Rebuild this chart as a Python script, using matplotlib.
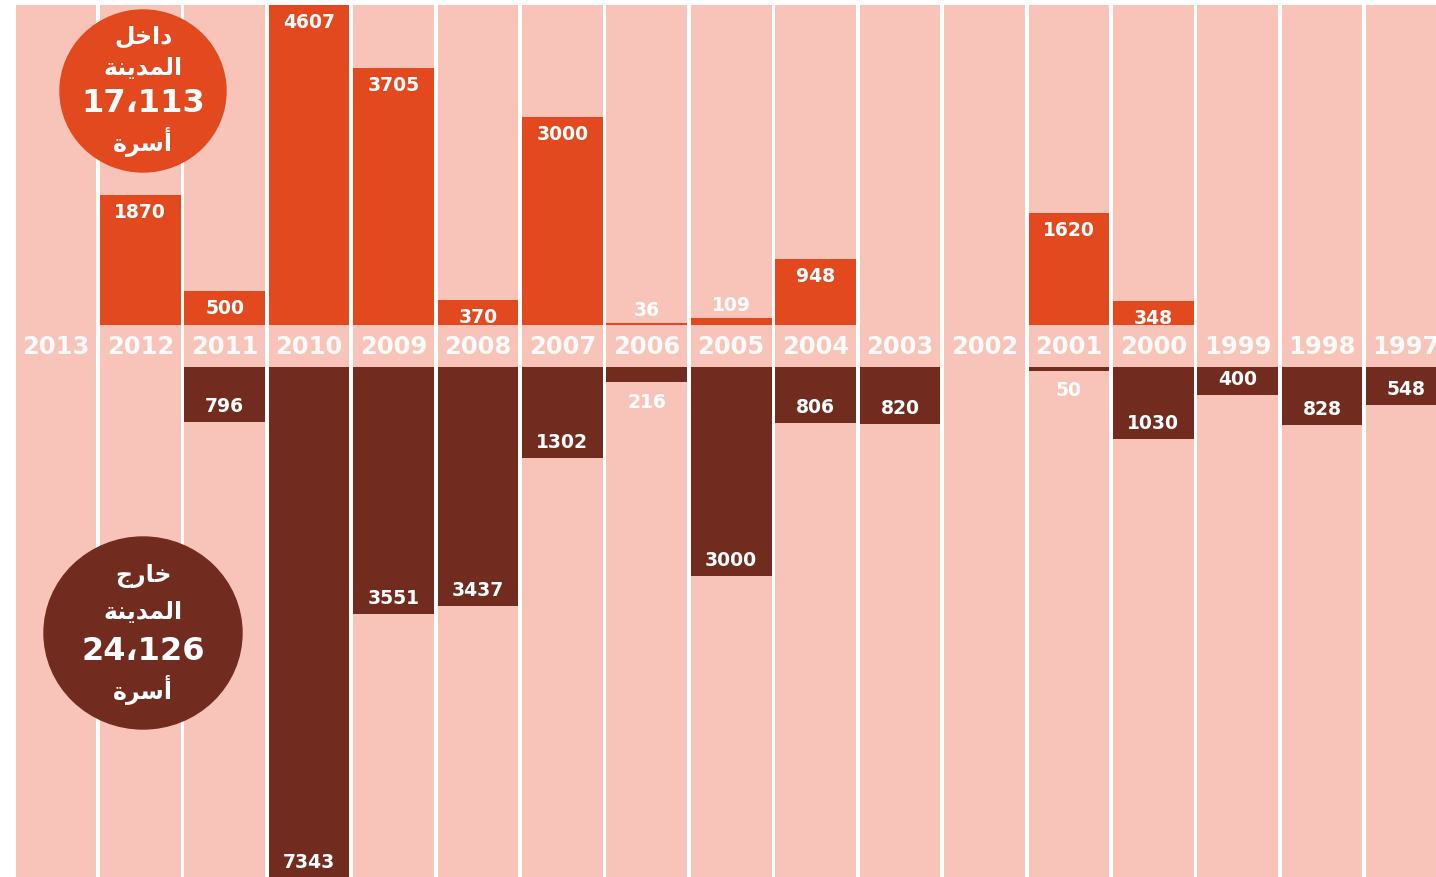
import matplotlib
matplotlib.use("Agg")
import matplotlib.pyplot as plt
from matplotlib.patches import Ellipse

years = ['2013', '2012', '2011', '2010', '2009', '2008', '2007', '2006', '2005',
         '2004', '2003', '2002', '2001', '2000', '1999', '1998', '1997']
inside_city = [0, 1870, 500, 4607, 3705, 370, 3000, 36, 109, 948, 0, 0, 1620, 348, 0, 0, 0]
outside_city = [0, 0, 796, 7343, 3551, 3437, 1302, 216, 3000, 806, 820, 0, 50, 1030, 400, 828, 548]

# arabic words written in presentation forms, visual order (matplotlib has no shaping)
word_inside = '\uFEDE\uFEA7\uFE8D\uFEA9'            # داخل
word_outside = '\uFE9D\uFEAD\uFE8E\uFEA7'           # خارج
word_city = '\uFE94\uFEE8\uFEF3\uFEAA\uFEE4\uFEDF\uFE8D'  # المدينة
word_family = '\uFE93\uFEAE\uFEB3\uFE83'            # أسرة
total_inside = '17\u060C113'
total_outside = '24\u060C126'

PINK = '#F8C3B8'
ORANGE = '#E2491E'
BROWN = '#722C1F'
FONT = ['DejaVu Sans', 'Noto Sans']

gap = 600        # the middle band with the years, in value units
bar_w = 0.955
y_bottom, y_top = -7635, 4995

fig = plt.figure(figsize=(14.36, 8.78), dpi=100)
fig.patch.set_facecolor('white')
ax = fig.add_axes([0, 0, 1, 1])
ax.set_xlim(-0.663, 16.35)
ax.set_ylim(y_bottom, y_top)
ax.axis('off')

x = list(range(len(years)))
top = max(inside_city) + gap / 2
ax.bar(x, top - y_bottom, bottom=y_bottom, width=bar_w, color=PINK, zorder=1)

ax.bar(x, inside_city, bottom=gap / 2, width=bar_w, color=ORANGE, zorder=2)
ax.bar(x, [-v for v in outside_city], bottom=-gap / 2, width=bar_w, color=BROWN, zorder=2)

lab = dict(textcoords='offset points', ha='center', color='white', fontsize=13.5,
           fontweight='bold', family=FONT, zorder=3, annotation_clip=False)

for i, yr in enumerate(years):
    ax.text(i, 0, yr, ha='center', va='center', color='white', alpha=0.92,
            fontsize=17.5, fontweight='bold', family=FONT, zorder=3)

    v = inside_city[i]
    if v > 0:
        end = gap / 2 + v
        if v >= 200:
            ax.annotate(str(v), (i, end), xytext=(0, -5), va='top', **lab)
        else:
            ax.annotate(str(v), (i, end), xytext=(0, 3), va='bottom', **lab)

    v = outside_city[i]
    if v > 0:
        end = -gap / 2 - v
        if v >= 300:
            ax.annotate(str(v), (i, end), xytext=(0, 5), va='bottom', **lab)
        else:
            ax.annotate(str(v), (i, end), xytext=(0, -7), va='top', **lab)

# the two totals circles
W, H = 1436, 878
fig.patches.append(Ellipse((143 / W, 1 - 92 / H), 166 / W, 162 / H,
                           transform=fig.transFigure, color=ORANGE, zorder=5))
fig.patches.append(Ellipse((143 / W, 1 - 634 / H), 198 / W, 192 / H,
                           transform=fig.transFigure, color=BROWN, zorder=5))

def circle_text(lines):
    for txt, ypx, size in lines:
        fig.text(143 / W, 1 - ypx / H, txt, ha='center', va='center', color='white',
                 fontsize=size, fontweight='bold', family=FONT, zorder=6)

circle_text([(word_inside, 37, 17), (word_city, 68, 17),
             (total_inside, 104, 23), (word_family, 142, 17)])
circle_text([(word_outside, 576, 17), (word_city, 612, 17),
             (total_outside, 652, 23), (word_family, 690, 17)])

fig.savefig('out.png', dpi=100, facecolor=fig.get_facecolor())
